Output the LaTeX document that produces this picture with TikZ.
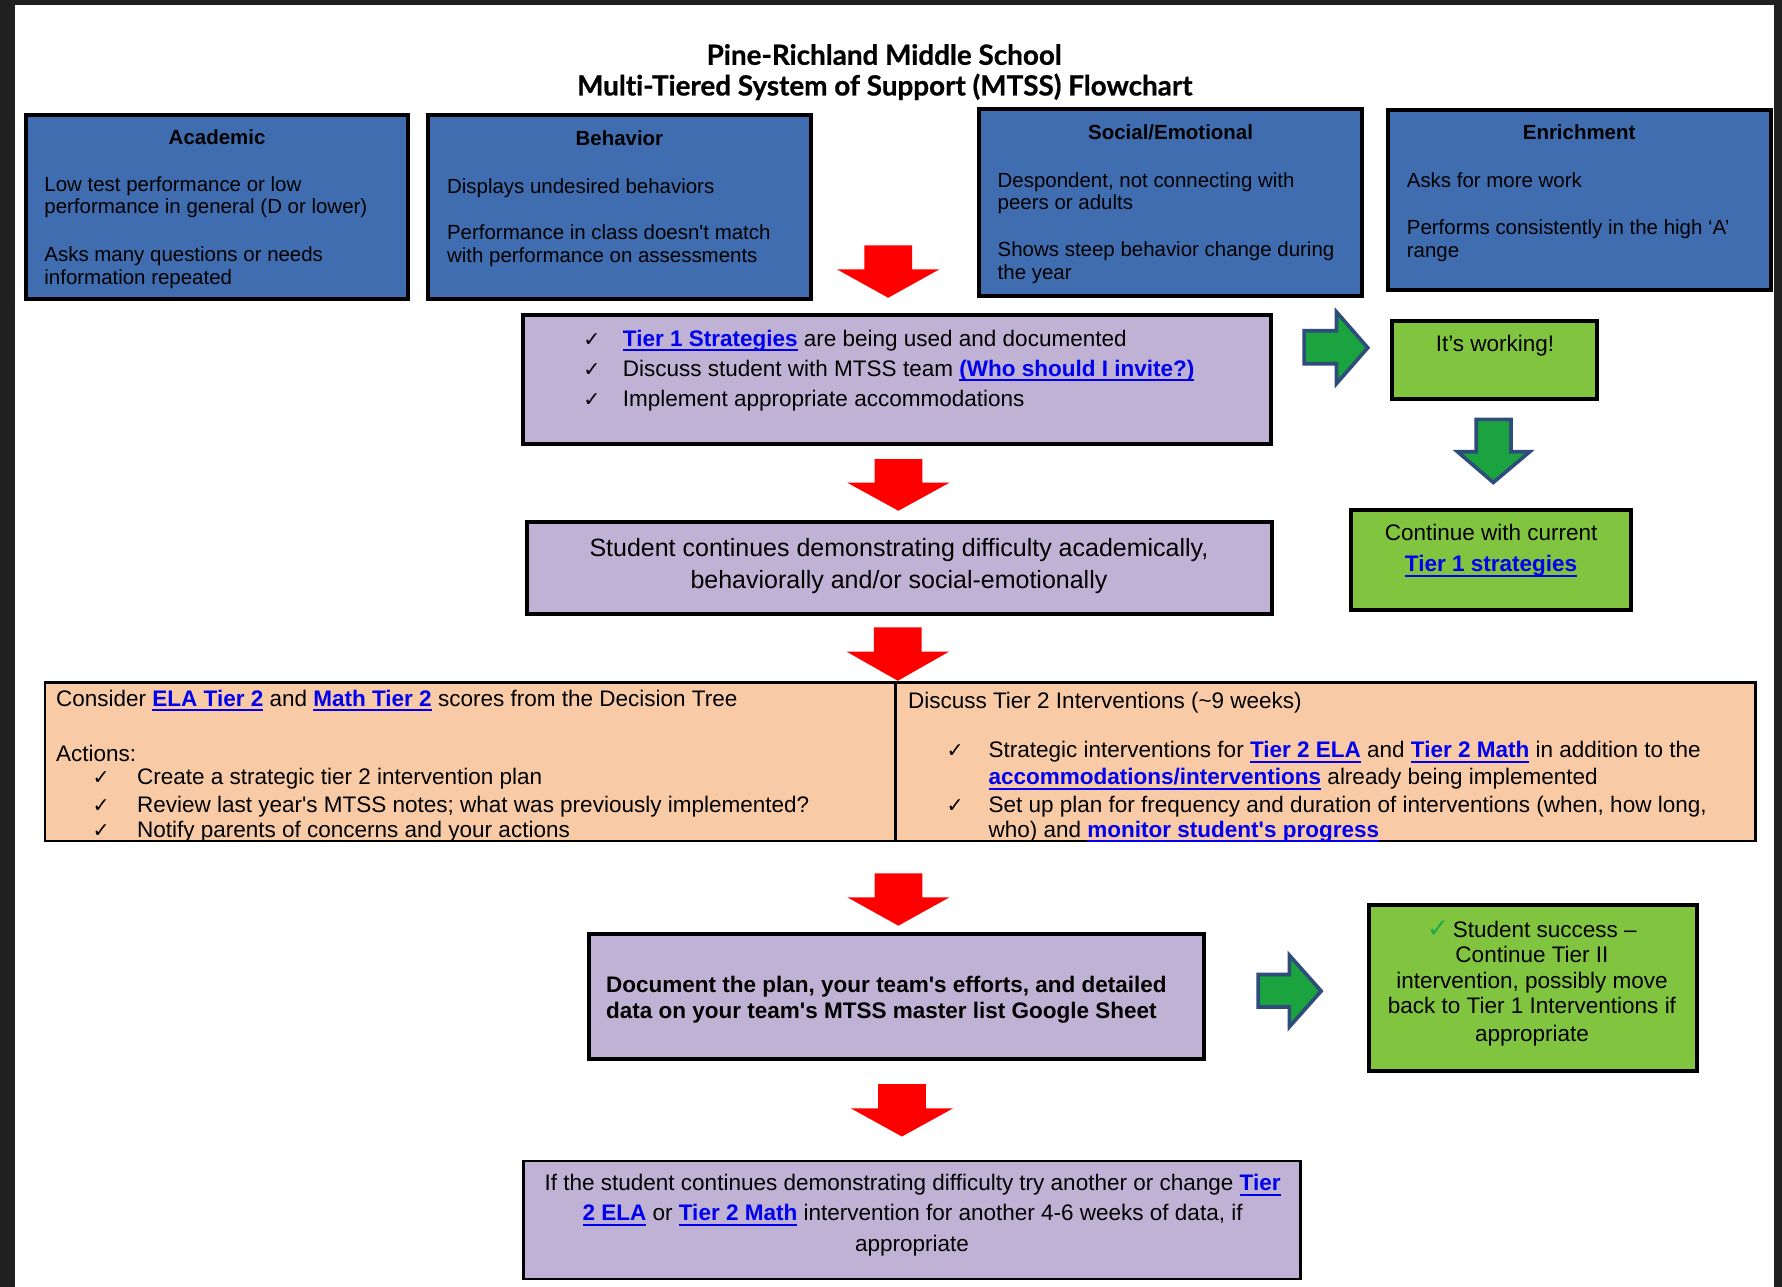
\documentclass[tikz,border=0pt]{standalone}
\usepackage{fontspec}
\setmainfont[Ligatures=TeXOff]{Liberation Sans}
\newfontfamily\titlefont[Ligatures={NoCommon,NoRequired,NoContextual},BoldFeatures={FakeBold=0.7}]{Lato}
\newfontfamily\symfont{DejaVu Sans}
\usetikzlibrary{fit}
\definecolor{frameDark}{RGB}{32,32,32}
\definecolor{boxBlue}{RGB}{63,109,176}
\definecolor{boxPurple}{RGB}{192,178,212}
\definecolor{boxGreen}{RGB}{128,196,64}
\definecolor{boxOrange}{RGB}{248,203,166}
\definecolor{arrowRed}{RGB}{255,0,0}
\definecolor{arrowGreen}{RGB}{26,163,62}
\definecolor{arrowEdge}{RGB}{47,77,122}
\definecolor{linkBlue}{RGB}{0,0,238}
\definecolor{checkGreen}{RGB}{30,170,70}
\newsavebox\lnkbox
\newcommand\lnk[1]{{\color{linkBlue}\bfseries\sbox\lnkbox{#1}\rlap{\rule[-2.2pt]{\wd\lnkbox}{0.8pt}}\usebox\lnkbox}}
\newcommand\chk{{\symfont\char"2713}}
\newcommand\redarrow[4]{\fill[arrowRed] (#1-21,#2) -- (#1+21,#2) -- (#1+21,#3) -- (#1+45,#3) -- (#1,#4) -- (#1-45,#3) -- (#1-21,#3) -- cycle;}
\tikzset{
  boxline/.style={draw=black, line width=1.7pt, inner sep=0pt},
  bluebox/.style={boxline, fill=boxBlue},
  purplebox/.style={boxline, fill=boxPurple},
  greenbox/.style={boxline, fill=boxGreen},
  thinbox/.style={draw=black, line width=1.1pt, inner sep=0pt},
  greenarrow/.style={fill=arrowGreen, draw=arrowEdge, line width=1.6pt, line join=miter},
  body/.style={inner sep=0pt, anchor=base west, font=\fontsize{9}{11}\selectfont},
  head/.style={inner sep=0pt, anchor=base, font=\fontsize{9}{11}\selectfont\bfseries},
  txt/.style={inner sep=0pt, anchor=base west, font=\fontsize{9.9}{12}\selectfont},
  ctxt/.style={inner sep=0pt, anchor=base, font=\fontsize{9.9}{12}\selectfont},
  bigtxt/.style={inner sep=0pt, anchor=base, font=\fontsize{11}{13}\selectfont},
  boldtxt/.style={inner sep=0pt, anchor=base west, font=\fontsize{9.9}{12}\selectfont\bfseries},
  titletxt/.style={inner sep=0pt, anchor=base, font=\fontsize{12.25}{14}\selectfont\titlefont\bfseries},
  chkmark/.style={inner sep=0pt, anchor=base west, font=\fontsize{9}{11}\selectfont},
}
\begin{document}
\begin{tikzpicture}[x=0.5pt, y=-0.5pt]
\useasboundingbox (0,0) rectangle (1568,1132);
\fill[frameDark] (0,0) rectangle (1568,1132);
\fill[white] (13,4) rectangle (1561,1132);

% title
\node[titletxt] (title1) at (778,57) {Pine-Richland Middle School};
\node[titletxt] (title2) at (778.5,84) {Multi-Tiered System of Support (MTSS) Flowchart};

% blue boxes
\node[bluebox, fit={(22.7,101) (359.2,263.1)}] (academic) {};
\node[bluebox, fit={(376.5,101.5) (713.7,263.2)}] (behavior) {};
\node[bluebox, fit={(861.4,95.6) (1198.8,260.2)}] (social) {};
\node[bluebox, fit={(1221,96.5) (1558,255.5)}] (enrich) {};

\node[head] (acH) at (191,127) {Academic};
\node[body] (ac1) at (38.7,168.4) {Low test performance or low};
\node[body] (ac2) at (38.7,188.2) {performance in general (D or lower)};
\node[body] (ac3) at (38.7,230.4) {Asks many questions or needs};
\node[body] (ac4) at (38.7,250) {information repeated};

\node[head] (beH) at (545,128) {Behavior};
\node[body] (be1) at (393,170) {Displays undesired behaviors};
\node[body] (be2) at (393,210.3) {Performance in class doesn't match};
\node[body] (be3) at (393,230.8) {with performance on assessments};

\node[head] (soH) at (1030,122.5) {Social/Emotional};
\node[body] (so1) at (877.5,164.8) {Despondent, not connecting with};
\node[body] (so2) at (877.5,184) {peers or adults};
\node[body] (so3) at (877.5,225.8) {Shows steep behavior change during};
\node[body] (so4) at (877.5,246) {the year};

\node[head] (enH) at (1389.5,123) {Enrichment};
\node[body] (en1) at (1237.5,164.8) {Asks for more work};
\node[body] (en2) at (1237.5,205.9) {Performs consistently in the high ‘A’};
\node[body] (en3) at (1237.5,226.4) {range};

% red arrows
\redarrow{781.5}{216}{237}{262}
\redarrow{790.5}{404}{424.7}{449.4}
\redarrow{790}{552}{573.4}{599}
\redarrow{790.5}{768.5}{789.5}{814.5}
\redarrow{793.6}{954}{975.2}{1000}

% tier 1 box
\node[purplebox, fit={(460.5,277.5) (1118.3,390.5)}] (tier1) {};
\node[chkmark] (t1c1) at (513,304.7) {\chk};
\node[chkmark] (t1c2) at (513,331) {\chk};
\node[chkmark] (t1c3) at (513,357.5) {\chk};
\node[txt] (t1a) at (547.7,304.7) {\lnk{Tier 1 Strategies} are being used and documented};
\node[txt] (t1b) at (547.7,331) {Discuss student with MTSS team \lnk{(Who should I invite?)}};
\node[txt] (t1c) at (547.7,357.5) {Implement appropriate accommodations};

% green side
\draw[greenarrow] (1147.5,291) -- (1176,291) -- (1176,274.5) -- (1203.5,306) -- (1176,337.5) -- (1176,320) -- (1147.5,320) -- cycle;
\node[greenbox, fit={(1224.7,282.4) (1405.3,351)}] (working) {};
\node[ctxt] (workT) at (1315.5,309) {It’s working!};
\draw[greenarrow] (1299,369) -- (1329.5,369) -- (1329.5,397.5) -- (1346,397.5) -- (1314,424.5) -- (1282.5,397.5) -- (1299,397.5) -- cycle;
\node[greenbox, fit={(1188.7,448.7) (1435,536.8)}] (contT1) {};
\node[ctxt] (ct1) at (1312,476) {Continue with current};
\node[ctxt] (ct2) at (1312,503) {\lnk{Tier 1 strategies}};

% student continues
\node[purplebox, fit={(463.7,459.3) (1119.3,540.3)}] (difficulty) {};
\node[bigtxt] (df1) at (791,489.7) {Student continues demonstrating difficulty academically,};
\node[bigtxt] (df2) at (791,517.7) {behaviorally and/or social-emotionally};

% orange table
\node[thinbox, fill=boxOrange, fit={(39.6,600.7) (1544.7,739.8)}] (table) {};
\draw[line width=1.1pt] (788,600.7) -- (788,739.8);
\node[txt] (or1) at (49,621.4) {Consider \lnk{ELA Tier 2} and \lnk{Math Tier 2} scores from the Decision Tree};
\node[txt] (or2) at (49,669.8) {Actions:};
\node[chkmark] (orc1) at (81,690.4) {\chk};
\node[chkmark] (orc2) at (81,714.7) {\chk};
\node[chkmark] (orc3) at (81,736.7) {\chk};
\node[txt] (or3) at (120.2,690.4) {Create a strategic tier 2 intervention plan};
\node[txt] (or4) at (120.2,714.7) {Review last year's MTSS notes; what was previously implemented?};
\node[txt] (or5) at (120.2,736.7) {Notify parents of concerns and your actions};

\node[txt] (dr1) at (798.6,623.8) {Discuss Tier 2 Interventions (\textasciitilde9 weeks)};
\node[chkmark] (drc1) at (832.5,666.9) {\chk};
\node[chkmark] (drc2) at (832.5,714.7) {\chk};
\node[txt] (dr2) at (869.5,666.9) {Strategic interventions for \lnk{Tier 2 ELA} and \lnk{Tier 2 Math} in addition to the};
\node[txt] (dr3) at (869.5,690.4) {\lnk{accommodations/interventions} already being implemented};
\node[txt] (dr4) at (869.5,714.7) {Set up plan for frequency and duration of interventions (when, how long,};
\node[txt] (dr5) at (869.5,736.7) {who) and \lnk{monitor student's progress}};

% document box
\node[purplebox, fit={(518,822) (1059.3,932)}] (document) {};
\node[boldtxt] (doc1) at (533,873) {Document the plan, your team's efforts, and detailed};
\node[boldtxt] (doc2) at (533,896.6) {data on your team's MTSS master list Google Sheet};

\draw[greenarrow] (1107,857.5) -- (1134.5,857.5) -- (1134.5,840.5) -- (1162.5,872) -- (1134.5,903.5) -- (1134.5,886) -- (1107,886) -- cycle;
\node[greenbox, fit={(1204.5,796) (1493.5,942.7)}] (success) {};
\node[ctxt] (su1) at (1348,824.7) {{\color{checkGreen}\fontsize{11.5}{12}\selectfont\chk}\,Student success –};
\node[ctxt] (su2) at (1348,847.3) {Continue Tier II};
\node[ctxt] (su3) at (1348,870) {intervention, possibly move};
\node[ctxt] (su4) at (1348,892.2) {back to Tier 1 Interventions if};
\node[ctxt] (su5) at (1348,916.2) {appropriate};

% bottom box
\node[thinbox, fill=boxPurple, fit={(460.7,1021.7) (1144.3,1125.3)}] (another) {};
\node[ctxt] (an1) at (803,1047.7) {If the student continues demonstrating difficulty try another or change \lnk{Tier}};
\node[ctxt] (an2) at (803,1074) {\lnk{2 ELA} or \lnk{Tier 2 Math} intervention for another 4-6 weeks of data, if};
\node[ctxt] (an3) at (802.5,1101) {appropriate};
\end{tikzpicture}
\end{document}
